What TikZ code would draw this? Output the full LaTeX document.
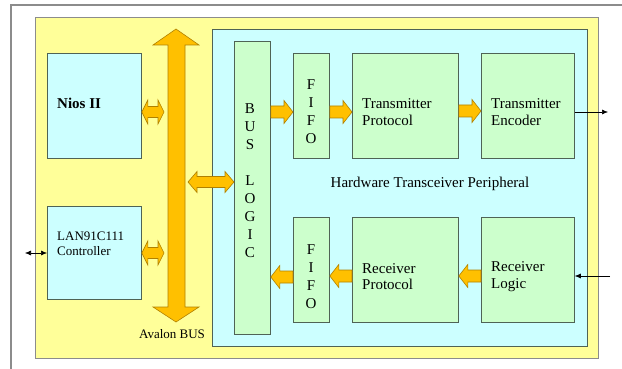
\documentclass[tikz,border=0pt]{standalone}
\usepackage{fontspec}
\setmainfont{Liberation Serif}
\usetikzlibrary{arrows.meta}
\definecolor{ylw}{HTML}{FFFF99}
\definecolor{cyn}{HTML}{CCFFFF}
\definecolor{grn}{HTML}{CCFFCC}
\definecolor{org}{HTML}{FFC000}
\definecolor{orgdark}{HTML}{B08000}
\definecolor{bord}{HTML}{4F6355}
\definecolor{framegray}{HTML}{8C8C8C}
\newcommand\HL{9}
\newcommand\HH{11.5}
\newcommand\SH{6}
\newcommand\blockR[3]{\filldraw[barrow] (#2 |- 0,#3) -- ++(-\HL,-\HH) coordinate (hb) -- ++(0,\HH-\SH) -- (#1 |- 0,{#3-\SH}) -- (#1 |- 0,{#3+\SH}) -- (hb |- 0,{#3+\SH}) -- ++(0,\HH-\SH) -- cycle;}
\newcommand\blockL[3]{\filldraw[barrow] (#2 |- 0,#3) -- ++(\HL,-\HH) coordinate (hb) -- ++(0,\HH-\SH) -- (#1 |- 0,{#3-\SH}) -- (#1 |- 0,{#3+\SH}) -- (hb |- 0,{#3+\SH}) -- ++(0,\HH-\SH) -- cycle;}
\newcommand\blockLR[3]{\path (#1 |- 0,#3) ++(\HL,0) coordinate (ha); \path (#2 |- 0,#3) ++(-\HL,0) coordinate (hc);
\filldraw[barrow] (#1 |- 0,#3) -- (ha |- 0,{#3-\HH}) -- (ha |- 0,{#3-\SH}) -- (hc |- 0,{#3-\SH}) -- (hc |- 0,{#3-\HH}) -- (#2 |- 0,#3) -- (hc |- 0,{#3+\HH}) -- (hc |- 0,{#3+\SH}) -- (ha |- 0,{#3+\SH}) -- (ha |- 0,{#3+\HH}) -- cycle;}
\begin{document}
\begin{tikzpicture}[x=1pt,y=-1pt,
  box/.style={draw=bord, line width=0.8pt, inner sep=0pt, anchor=north west},
  cbox/.style={box, fill=cyn},
  gbox/.style={box, fill=grn},
  barrow/.style={fill=org, draw=orgdark, line width=0.6pt, line join=miter},
  txt/.style={font=\fontsize{15}{16.5}\selectfont, inner sep=0pt, align=left},
  stxt/.style={font=\fontsize{13}{14.5}\selectfont, inner sep=0pt, align=left},
  vtxt/.style={font=\fontsize{15}{18}\selectfont, inner sep=0pt, align=center},
  sig/.style={line width=0.6pt, black}
]
\useasboundingbox (0,0) rectangle (622,369);
\fill[white] (0,0) rectangle (622,369);
\draw[framegray, line width=1.2pt] (11,369) -- (11,5) -- (622,5);

% system box and peripheral
\node[box, draw=framegray, fill=ylw, minimum width=563pt, minimum height=341pt] (sys) at (35,17) {};
\node[cbox, minimum width=375pt, minimum height=317pt] (hwp) at (212,29) {};

% left blocks
\node[cbox, minimum width=94pt, minimum height=105pt] (nios) at (47,53) {};
\node[cbox, minimum width=94pt, minimum height=93pt] (lan) at (47,206) {};
\node[txt, anchor=west, font=\bfseries\fontsize{15}{16.5}\selectfont] (niostxt) at (57,103) {Nios II};
\node[stxt, anchor=west] (lantxt) at (57,244) {LAN91C111\\Controller};

% peripheral blocks
\node[gbox, minimum width=36pt, minimum height=293pt] (bl) at (234,41) {};
\node[vtxt] (bltxt) at (250,181) {B\\U\\S\\[18pt]L\\O\\G\\I\\C};
\node[gbox, minimum width=36pt, minimum height=105pt] (f1) at (293,53) {};
\node[vtxt] (f1txt) at (311,112) {F\\I\\F\\O};
\node[gbox, minimum width=36pt, minimum height=105pt] (f2) at (293,217) {};
\node[vtxt] (f2txt) at (311,276.5) {F\\I\\F\\O};
\node[gbox, minimum width=106pt, minimum height=105pt] (tp) at (352,53) {};
\node[txt, anchor=west] (tptxt) at (362,112) {Transmitter\\Protocol};
\node[gbox, minimum width=93pt, minimum height=105pt] (te) at (481,53) {};
\node[txt, anchor=west] (tetxt) at (491,112) {Transmitter\\Encoder};
\node[gbox, minimum width=106pt, minimum height=105pt] (rp) at (352,217) {};
\node[txt, anchor=west] (rptxt) at (362,276.5) {Receiver\\Protocol};
\node[gbox, minimum width=93pt, minimum height=105pt] (rl) at (481,217) {};
\node[txt, anchor=west] (rltxt) at (491,276.5) {Receiver\\Logic};
\node[txt] (hwptxt) at (430,184) {Hardware Transceiver Peripheral};

% Avalon bus
\filldraw[barrow] (176,29) -- (199,45) -- (185,45) -- (185,307) -- (199,307) -- (176,322) -- (153,307) -- (168,307) -- (168,45) -- (153,45) -- cycle;
\node[stxt] (avalon) at (172,334) {Avalon BUS};
\coordinate (busLtip) at (164,0);
\coordinate (busRtip) at (188,0);

% double arrows to bus
\renewcommand\HL{6}\renewcommand\HH{12}\renewcommand\SH{5.5}
\blockLR{nios.east}{busLtip}{112}
\blockLR{lan.east}{busLtip}{253}
\renewcommand\HL{9}\renewcommand\HH{10.5}\renewcommand\SH{5.5}
\blockLR{busRtip}{bl.west}{182}

% data path arrows
\renewcommand\HL{9}\renewcommand\HH{11.5}\renewcommand\SH{6}
\blockR{bl.east}{f1.west}{112}
\blockR{f1.east}{tp.west}{112}
\blockR{tp.east}{te.west}{111}
\blockL{rl.west}{rp.east}{276}
\blockL{rp.west}{f2.east}{276}
\blockL{f2.west}{bl.east}{277}

% external signals
\coordinate (txout) at (608,112);
\coordinate (rxin) at (610,276);
\coordinate (lanext) at (25,253);
\draw[sig, -{Latex[length=6pt,width=5pt]}] (te.east |- txout) -- (txout);
\draw[sig, -{Latex[length=6pt,width=5pt]}] (rxin) -- (rl.east |- rxin);
\draw[sig, {Latex[length=6pt,width=5pt]}-{Latex[length=6pt,width=5pt]}] (lanext) -- (lan.west |- lanext);
\end{tikzpicture}
\end{document}
